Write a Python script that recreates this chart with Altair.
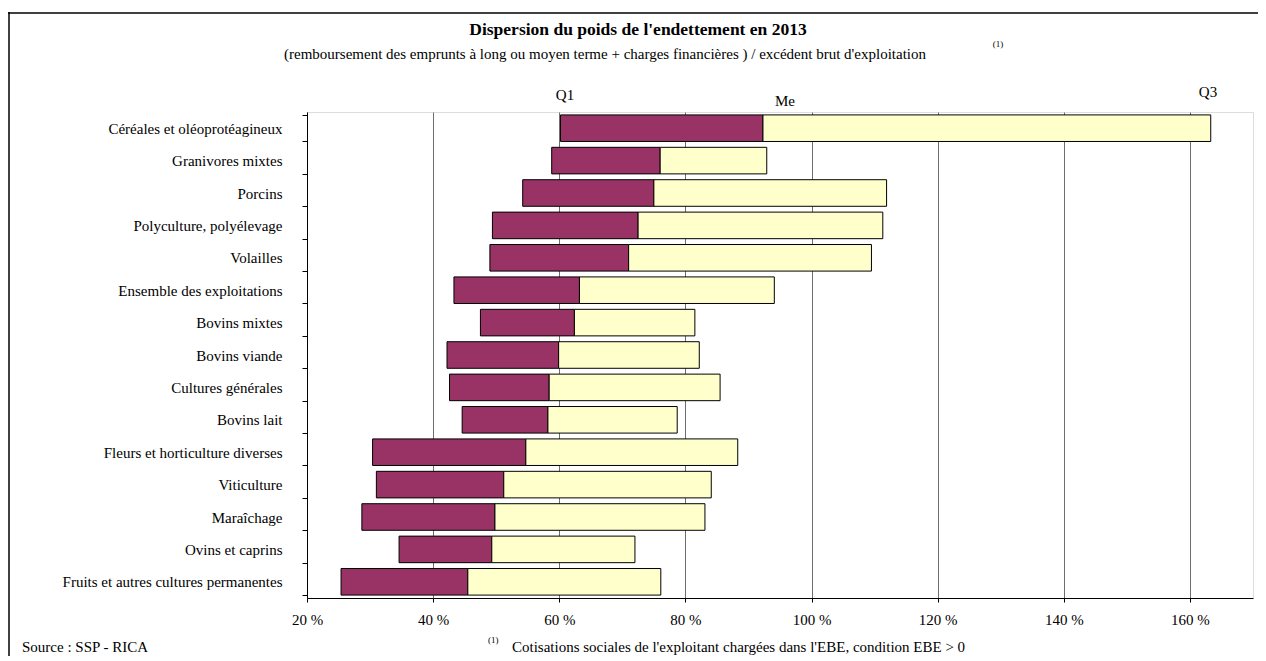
import altair as alt
import pandas as pd

categories = [
    "Céréales et oléoprotéagineux",
    "Granivores mixtes",
    "Porcins",
    "Polyculture, polyélevage",
    "Volailles",
    "Ensemble des exploitations",
    "Bovins mixtes",
    "Bovins viande",
    "Cultures générales",
    "Bovins lait",
    "Fleurs et horticulture diverses",
    "Viticulture",
    "Maraîchage",
    "Ovins et caprins",
    "Fruits et autres cultures permanentes",
]
q1 = [60.2, 58.8, 54.2, 49.4, 49.0, 43.3, 47.5, 42.2, 42.6, 44.6, 30.4, 31.0, 28.7, 34.6, 25.4]
me = [92.3, 76.0, 75.0, 72.5, 71.0, 63.2, 62.4, 59.9, 58.4, 58.2, 54.7, 51.2, 49.8, 49.3, 45.5]
q3 = [163.3, 92.9, 111.9, 111.3, 109.5, 94.1, 81.5, 82.2, 85.5, 78.7, 88.3, 84.1, 83.1, 72.0, 76.1]
x_ticks = [20, 40, 60, 80, 100, 120, 140, 160]

title_text = "Dispersion du poids de l'endettement en 2013"
subtitle_text = "(remboursement des emprunts à long ou moyen terme + charges financières ) / excédent brut d'exploitation"
note_mark = "(1)"
quart_labels = ["Q1", "Me", "Q3"]
source_text = "Source : SSP - RICA"
footnote_text = "Cotisations sociales de l'exploitant chargées dans l'EBE, condition EBE > 0"

FONT = "Liberation Serif"

df = pd.DataFrame({"cat": categories, "q1": q1, "me": me, "q3": q3})

xscale = alt.Scale(domain=[20, 170], nice=False, zero=False)
yscale = alt.Scale(domain=categories, paddingInner=0.18, paddingOuter=0.09)

yenc = alt.Y(
    "cat:N", sort=categories, scale=yscale, title=None,
    axis=alt.Axis(
        tickBand="extent", tickSize=5, tickColor="black", domainColor="black",
        labelPadding=20, labelFont=FONT, labelFontSize=15, labelColor="black",
        labelLimit=400, grid=False,
    ),
)
xaxis = alt.Axis(
    values=x_ticks, labelExpr="datum.value + ' %'", tickSize=4, tickColor="black",
    domainColor="black", labelPadding=10, labelFont=FONT, labelFontSize=15,
    labelColor="black", labelFlush=False, grid=True, gridColor="#6e6e6e", gridWidth=1,
)

base = alt.Chart(df)
low = base.mark_bar(color="#993366", stroke="black", strokeWidth=1).encode(
    y=yenc,
    x=alt.X("q1:Q", scale=xscale, axis=xaxis, title=None),
    x2="me:Q",
)
high = base.mark_bar(color="#FFFFCC", stroke="black", strokeWidth=1).encode(
    y=yenc,
    x=alt.X("me:Q", scale=xscale, axis=xaxis, title=None),
    x2="q3:Q",
)

one = pd.DataFrame({"a": [0]})
frame_top = alt.Chart(one).mark_rule(color="black", strokeWidth=1.5).encode(
    x=alt.value(-299), x2=alt.value(951), y=alt.value(-99)
)
frame_left = alt.Chart(one).mark_rule(color="black", strokeWidth=1.5).encode(
    x=alt.value(-298), y=alt.value(-100), y2=alt.value(548)
)


def txt(t, x, y, size=15, weight="normal", align="center"):
    return alt.Chart(pd.DataFrame({"t": [t]})).mark_text(
        font=FONT, fontSize=size, fontWeight=weight, align=align,
        baseline="alphabetic", color="black",
    ).encode(text="t:N", x=alt.value(x), y=alt.value(y))


texts = [
    txt(title_text, 331, -77, size=17.5, weight="bold"),
    txt(subtitle_text, 298, -53, size=15),
    txt(note_mark, 691, -65, size=9),
    txt(quart_labels[0], 258, -12, size=15),
    txt(quart_labels[1], 478, -6, size=15),
    txt(quart_labels[2], 901, -15, size=15),
    txt(source_text, -285, 540, size=15, align="left"),
    txt(note_mark, 181, 531, size=9, align="left"),
    txt(footnote_text, 205, 540, size=15, align="left"),
]

chart = alt.layer(frame_top, frame_left, low, high, *texts).properties(
    width=946,
    height=486,
    padding={"left": 299, "top": 104, "right": 5, "bottom": 58},
    autosize=alt.AutoSizeParams(type="none"),
).configure_view(stroke="#6e6e6e", strokeWidth=1).configure(background="white")

chart.save("out.html", embed_options={"renderer": "svg", "actions": False})
